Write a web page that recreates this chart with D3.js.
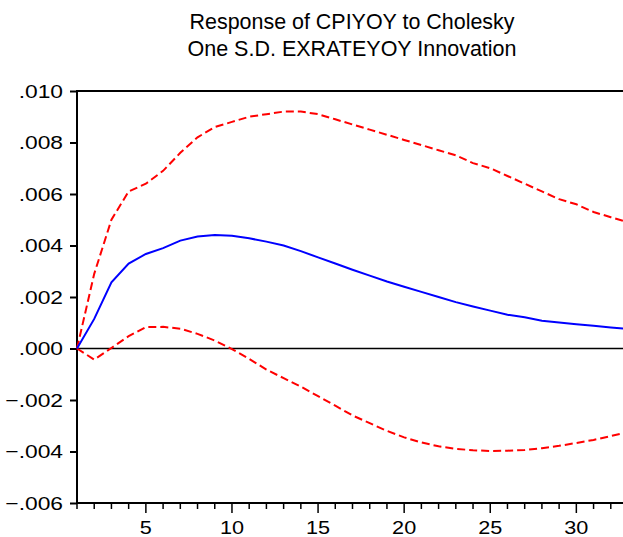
<!DOCTYPE html>
<html>
<head>
<meta charset="utf-8">
<script src="https://cdn.jsdelivr.net/npm/d3@7"></script>
<style>
  body { margin: 0; background: #fff; }
  text { font-family: "Liberation Sans", Arial, sans-serif; fill: #000; }
</style>
</head>
<body>
<div id="chart"></div>
<script>
// impulse response, periods 1..33
var periods = d3.range(1, 34);

var response = [0, 0.00115, 0.00257, 0.00330, 0.00367, 0.00390, 0.00419, 0.00435, 0.00441, 0.00438,
  0.00428, 0.00415, 0.00400, 0.00378, 0.00354, 0.00330, 0.00306, 0.00283, 0.00260, 0.00240,
  0.00220, 0.00200, 0.00180, 0.00163, 0.00147, 0.00131, 0.00121, 0.00108, 0.00101, 0.00094,
  0.00088, 0.00082, 0.00076];

var upper = [0, 0.0029, 0.0050, 0.0061, 0.0064, 0.0069, 0.0076, 0.0082, 0.0086, 0.0088,
  0.0090, 0.0091, 0.0092, 0.0092, 0.0091, 0.0089, 0.0087, 0.0085, 0.0083, 0.0081,
  0.0079, 0.0077, 0.0075, 0.0072, 0.0070, 0.0067, 0.0064, 0.0061, 0.0058, 0.0056,
  0.0053, 0.0051, 0.0049];

var lower = [0, -0.00043, 0.00002, 0.00048, 0.00083, 0.00084, 0.00077, 0.00057, 0.00031, -0.00002,
  -0.00040, -0.00082, -0.00115, -0.00148, -0.00185, -0.00222, -0.00260, -0.00290, -0.00320, -0.00345,
  -0.00365, -0.00380, -0.00390, -0.00395, -0.00398, -0.00397, -0.00394, -0.00387, -0.00378, -0.00367,
  -0.00355, -0.00340, -0.00325];

var yTicks = [-0.006, -0.004, -0.002, 0, 0.002, 0.004, 0.006, 0.008, 0.010];
var xMajor = [5, 10, 15, 20, 25, 30];
var titleLines = ["Response of CPIYOY to Cholesky", "One S.D. EXRATEYOY Innovation"];

var width = 623, height = 537;
var m = { left: 77, top: 91, bottom: 503, right: 628 };

var svg = d3.select("#chart").append("svg")
    .attr("width", width)
    .attr("height", height);

var x = d3.scaleLinear().domain([1, 33]).range([m.left, m.right]);
var y = d3.scaleLinear().domain([-0.006, 0.010]).range([m.bottom, m.top]);

// title
svg.selectAll(".title")
    .data(titleLines)
    .enter().append("text")
    .attr("class", "title")
    .attr("x", 352)
    .attr("y", function(d, i) { return 29 + i * 27; })
    .attr("text-anchor", "middle")
    .style("font-size", "22px")
    .attr("textLength", function(d, i) { return i === 0 ? 325 : 329; })
    .attr("lengthAdjust", "spacingAndGlyphs")
    .text(function(d) { return d; });

// y axis
var yAxis = d3.axisLeft(y)
    .tickValues(yTicks)
    .tickSize(7)
    .tickPadding(7)
    .tickFormat(function(d) { return d3.format(".3f")(d).replace("0.", "."); });

var gy = svg.append("g")
    .attr("transform", "translate(" + m.left + ",0)")
    .call(yAxis);
gy.select(".domain").remove();
gy.selectAll(".tick line").attr("stroke", "#000").attr("stroke-width", 2);
gy.selectAll(".tick text")
    .attr("font-family", null)
    .attr("font-size", null)
    .style("font-size", "19px")
    .each(function() {
        // the reference labels are a little wider than plain Arial
        var w = this.getComputedTextLength();
        d3.select(this).attr("textLength", w * 1.2).attr("lengthAdjust", "spacingAndGlyphs");
    });

// x axis: minor ticks every period, major every 5
var gx = svg.append("g")
    .attr("transform", "translate(0," + m.bottom + ")");
gx.selectAll(".minor")
    .data(periods)
    .enter().append("line")
    .attr("x1", function(d) { return x(d); })
    .attr("x2", function(d) { return x(d); })
    .attr("y1", 0)
    .attr("y2", function(d) { return d % 5 === 0 ? 10 : 6; })
    .attr("stroke", "#000")
    .attr("stroke-width", 1.5);
gx.selectAll(".lbl")
    .data(xMajor)
    .enter().append("text")
    .attr("x", function(d) { return x(d); })
    .attr("y", 31)
    .attr("text-anchor", "middle")
    .style("font-size", "19px")
    .text(function(d) { return d; })
    .each(function() {
        var w = this.getComputedTextLength();
        d3.select(this).attr("textLength", w * 1.14).attr("lengthAdjust", "spacingAndGlyphs");
    });

// frame
svg.append("line")
    .attr("x1", m.left).attr("x2", width + 5)
    .attr("y1", m.top).attr("y2", m.top)
    .attr("stroke", "#000").attr("stroke-width", 2);
svg.append("line")
    .attr("x1", m.left).attr("x2", width + 5)
    .attr("y1", m.bottom).attr("y2", m.bottom)
    .attr("stroke", "#000").attr("stroke-width", 2);
svg.append("line")
    .attr("x1", m.left).attr("x2", m.left)
    .attr("y1", m.top - 1).attr("y2", m.bottom + 1)
    .attr("stroke", "#000").attr("stroke-width", 2);

// zero line
svg.append("line")
    .attr("x1", m.left).attr("x2", width + 5)
    .attr("y1", y(0)).attr("y2", y(0))
    .attr("stroke", "#000").attr("stroke-width", 1.5);

var line = d3.line()
    .x(function(d, i) { return x(periods[i]); })
    .y(function(d) { return y(d); });

svg.append("path")
    .datum(upper)
    .attr("d", line)
    .attr("fill", "none")
    .attr("stroke", "#ff0000")
    .attr("stroke-width", 2)
    .attr("stroke-dasharray", "8,4");

svg.append("path")
    .datum(lower)
    .attr("d", line)
    .attr("fill", "none")
    .attr("stroke", "#ff0000")
    .attr("stroke-width", 2)
    .attr("stroke-dasharray", "8,4");

svg.append("path")
    .datum(response)
    .attr("d", line)
    .attr("fill", "none")
    .attr("stroke", "#0000ff")
    .attr("stroke-width", 2);
</script>
</body>
</html>
